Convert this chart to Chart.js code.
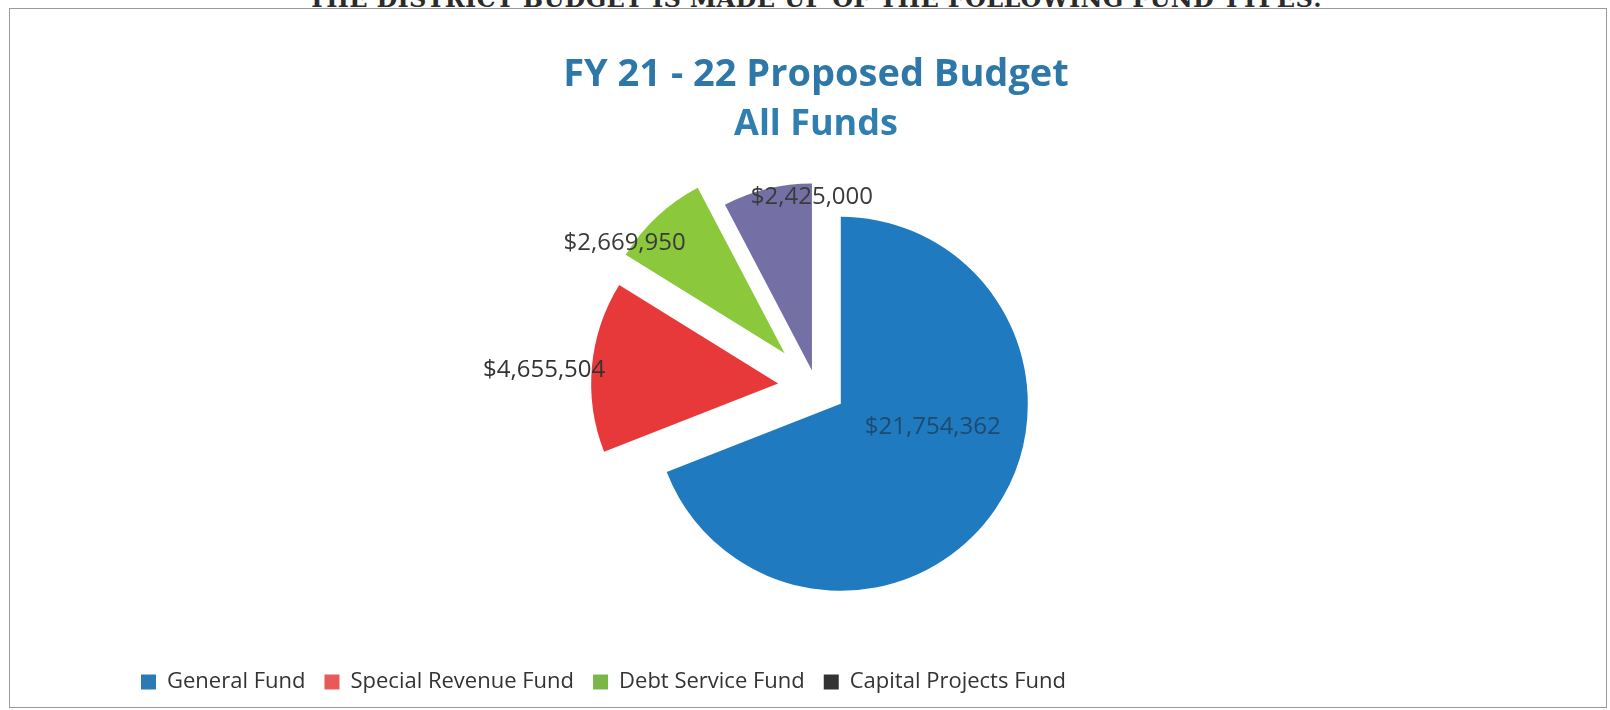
<!DOCTYPE html>
<html>
<head>
<meta charset="utf-8">
<script src="https://cdn.jsdelivr.net/npm/chart.js@4.4.0/dist/chart.umd.min.js"></script>
<style>
    html, body { margin: 0; padding: 0; background: #fff; overflow: hidden; }
    #heading {
        position: absolute; left: 308px; top: -16px; line-height: 24px; letter-spacing: 0.3px;
        font: bold 24px "DejaVu Serif", serif; color: #2b2b2b; white-space: nowrap;
    }
    #box {
        position: absolute; left: 9px; top: 8px; width: 1598px; height: 700px;
        box-sizing: border-box; border: 1px solid #9a9a9a; overflow: hidden; background: #fff;
    }
    canvas { display: block; }
</style>
</head>
<body>
<div id="heading">THE DISTRICT BUDGET IS MADE UP OF THE FOLLOWING FUND TYPES:</div>
<div id="box"><canvas id="budgetChart" width="1596" height="694"></canvas></div>
<script>
    // data
    const funds = ['General Fund', 'Special Revenue Fund', 'Debt Service Fund', 'Capital Projects Fund'];
    const amounts = [21754362, 4655504, 2669950, 2425000];

    // styles
    const sliceColors = ['#1f7ac0', '#e8393a', '#8cc83c', '#7470a6'];
    const legendColors = ['#2a7ab5', '#e85a5a', '#7ab648', '#333333'];
    const explode = [30, 38, 46, 17];
    const labelShift = [[92, 23], [-234, -13], [-160, -110], [0, -173]];
    const labelColors = ['#1e4a6e', '#333333', '#3a3a3a', '#3a3a3a'];

    const fmt = v => '$' + v.toLocaleString('en-US');

    // pull slices out along their middle angle
    const explodePlugin = {
        id: 'explode',
        afterDatasetUpdate(chart, args) {
            args.meta.data.forEach((arc, i) => {
                const mid = (arc.startAngle + arc.endAngle) / 2;
                arc.x += Math.cos(mid) * explode[i];
                arc.y += Math.sin(mid) * explode[i];
            });
        }
    };

    const valueLabels = {
        id: 'valueLabels',
        afterDatasetsDraw(chart) {
            const ctx = chart.ctx;
            ctx.save();
            ctx.font = '24px "Open Sans"';
            ctx.textAlign = 'center';
            ctx.textBaseline = 'middle';
            chart.getDatasetMeta(0).data.forEach((arc, i) => {
                ctx.fillStyle = labelColors[i];
                ctx.fillText(fmt(amounts[i]), arc.x + labelShift[i][0], arc.y + labelShift[i][1]);
            });
            ctx.restore();
        }
    };

    const ctx = document.getElementById('budgetChart').getContext('2d');
    new Chart(ctx, {
        type: 'pie',
        data: {
            labels: funds,
            datasets: [{
                data: amounts,
                backgroundColor: sliceColors,
                borderWidth: 0
            }]
        },
        options: {
            responsive: false,
            animation: false,
            devicePixelRatio: 1,
            radius: 187,
            layout: { padding: { left: 112, right: 96, top: 0, bottom: 0 } },
            plugins: {
                title: {
                    display: true,
                    text: 'FY 21 - 22 Proposed Budget',
                    color: '#2d78a8',
                    font: { family: 'Open Sans', size: 38, weight: 'bold', lineHeight: 1.2 },
                    padding: { top: 43, bottom: 0 }
                },
                subtitle: {
                    display: true,
                    text: 'All Funds',
                    color: '#2f7fb0',
                    font: { family: 'Open Sans', size: 36, weight: 'bold', lineHeight: 1.2 },
                    padding: { top: 6, bottom: -25 }
                },
                legend: {
                    position: 'bottom',
                    align: 'start',
                    labels: {
                        color: '#333',
                        font: { family: 'Open Sans', size: 22 },
                        boxWidth: 15,
                        boxHeight: 15,
                        padding: 19,
                        generateLabels(chart) {
                            const items = Chart.overrides.pie.plugins.legend.labels.generateLabels(chart);
                            items.forEach((it, i) => {
                                it.fillStyle = legendColors[i];
                                it.strokeStyle = legendColors[i];
                                it.lineWidth = 0;
                            });
                            return items;
                        }
                    }
                },
                tooltip: { enabled: false }
            }
        },
        plugins: [explodePlugin, valueLabels]
    });
</script>
</body>
</html>
